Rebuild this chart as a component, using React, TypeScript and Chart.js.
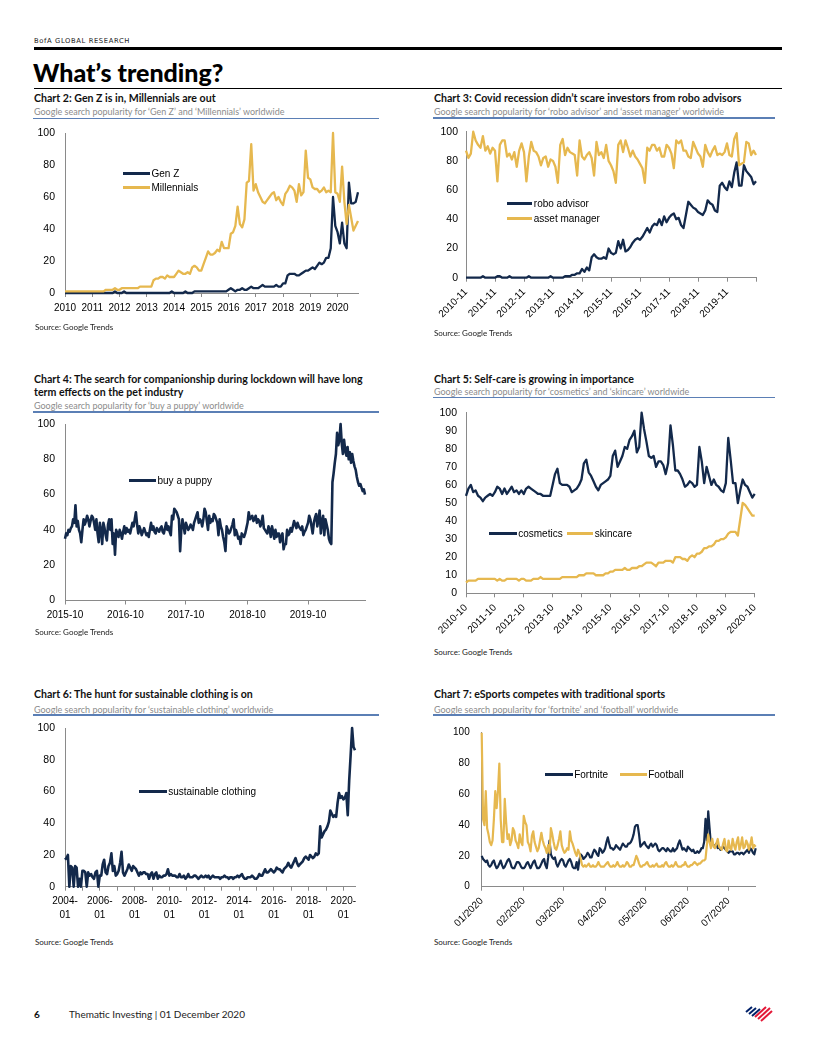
import React, { useEffect, useRef } from "react";
import { Chart, registerables } from "chart.js";

Chart.register(...registerables);

const NAVY = "#13294b";
const GOLD = "#e6b84f";
const AXIS = "#8a8a8a";
const RULE = "#5b7fb5";
const UI_FONT = "'Liberation Sans', Arial, Helvetica, sans-serif";
const DOC_FONT = "Lato, 'Open Sans', 'Noto Sans', sans-serif";

// ---------- Chart 2: Gen Z vs Millennials (monthly, Jan 2010 - Oct 2020)
const c2Ticks = [0, 12, 24, 36, 48, 60, 72, 84, 96, 108, 120];
const c2TickLabels = ["2010", "2011", "2012", "2013", "2014", "2015", "2016", "2017", "2018", "2019", "2020"];
const genZ = [
  0, 0, 0, 0, 0, 0, 0, 0, 0, 0, 0, 0,
  0, 0, 0, 0, 0, 0, 0, 0, 0, 0, 1, 0,
  0, 0, 1, 0, 0, 0, 0, 0, 0, 0, 0, 0,
  0, 0, 0, 0, 0, 0, 0, 0, 0, 0, 0, 1,
  0, 0, 0, 0, 0, 1, 0, 0, 0, 1, 1, 1,
  1, 1, 1, 1, 1, 1, 1, 1, 1, 1, 1, 1,
  2, 3, 2, 1, 2, 2, 3, 2, 2, 3, 4, 3,
  3, 3, 4, 5, 4, 4, 4, 4, 4, 5, 4, 4,
  6, 6, 11, 12, 12, 12, 11, 11, 12, 13, 14, 14,
  15, 16, 15, 17, 19, 18, 19, 22, 22, 28, 60, 42,
  38, 31, 44, 31, 28, 69, 56, 56, 57, 63,
];
const millennials = [
  1, 1, 1, 1, 1, 1, 1, 1, 1, 1, 1, 1,
  1, 1, 1, 1, 1, 1, 2, 2, 2, 2, 3, 2,
  2, 3, 3, 3, 3, 3, 3, 3, 3, 4, 4, 4,
  4, 4, 4, 8, 9, 9, 10, 10, 9, 11, 10, 10,
  10, 12, 14, 13, 12, 12, 13, 12, 16, 17, 16, 14,
  14, 18, 22, 26, 24, 24, 25, 27, 26, 32, 28, 28,
  28, 37, 38, 42, 54, 43, 41, 46, 69, 70, 93, 64,
  68, 63, 60, 57, 56, 58, 60, 62, 63, 58, 60, 57,
  55, 62, 64, 67, 66, 64, 57, 68, 61, 63, 89, 72,
  71, 66, 65, 65, 63, 64, 66, 63, 64, 63, 100, 63,
  62, 57, 79, 57, 43, 55, 47, 39, 42, 45,
];

// ---------- Chart 3: robo advisor vs asset manager (monthly, Nov 2010 - Nov 2020)
const c3Ticks = [0, 12, 24, 36, 48, 60, 72, 84, 96, 108, 120];
const c3TickLabels = ["2010-11", "2011-11", "2012-11", "2013-11", "2014-11", "2015-11", "2016-11", "2017-11", "2018-11", "2019-11", ""];
const roboAdvisor = [
  0, 0, 0, 0, 0, 0, 0, 1, 0, 0, 0, 0, 0, 1, 1, 0, 0, 0, 1, 0,
  0, 0, 0, 0, 0, 0, 1, 0, 0, 0, 0, 0, 0, 0, 0, 1, 0, 0, 0, 0,
  0, 1, 1, 1, 2, 2, 3, 3, 6, 4,
  7, 5, 14, 16, 14, 13, 13, 14, 13, 20,
  17, 16, 17, 25, 20, 26, 18, 19, 21, 24,
  26, 27, 26, 28, 31, 34, 31, 35, 37, 36,
  40, 36, 42, 38, 41, 43, 44, 40, 41, 36,
  34, 43, 52, 50, 48, 47, 45, 44, 43, 46,
  53, 51, 50, 46, 45, 63, 65, 62, 60, 66,
  62, 72, 79, 63, 63, 77, 73, 71, 69, 64, 66,
];
const assetManager = [
  87, 82, 85, 100, 94, 91, 89, 97, 87, 90,
  85, 89, 87, 66, 91, 94, 94, 83, 85, 81,
  86, 76, 87, 92, 86, 66, 83, 93, 87, 86,
  83, 77, 82, 83, 76, 81, 80, 76, 65, 91,
  95, 84, 89, 86, 85, 84, 70, 94, 83, 81,
  84, 86, 82, 70, 93, 84, 86, 82, 91, 80,
  77, 73, 65, 91, 94, 86, 94, 89, 83, 87,
  83, 81, 78, 75, 65, 89, 87, 91, 91, 87,
  89, 83, 83, 91, 89, 85, 75, 94, 92, 94,
  87, 87, 83, 82, 93, 89, 85, 83, 76, 91,
  86, 83, 87, 90, 84, 85, 84, 86, 92, 84,
  83, 95, 99, 77, 78, 79, 93, 92, 84, 87,
  84,
];

// ---------- Chart 4: buy a puppy (weekly, Oct 2015 - Sep 2020)
const c4Ticks = [0, 52, 104, 157, 209];
const c4TickLabels = ["2015-10", "2016-10", "2017-10", "2018-10", "2019-10"];
const buyAPuppy = [
  35, 38, 37, 40, 39, 41, 42, 46, 44, 54,
  42, 45, 40, 38, 33, 40, 46, 43, 45, 48,
  46, 42, 45, 48, 47, 44, 40, 46, 38, 33,
  44, 40, 32, 44, 41, 37, 34, 43, 46, 40,
  46, 32, 38, 26, 40, 38, 36, 40, 38, 35,
  39, 42, 38, 41, 39, 40, 38, 41, 44, 42,
  46, 50, 43, 38, 42, 40, 37, 39, 41, 39,
  37, 38, 36, 40, 44, 40, 42, 39, 38, 41,
  40, 39, 41, 42, 39, 38, 41, 44, 40, 42,
  39, 37, 48, 46, 52, 51, 50, 48, 46, 28,
  40, 46, 42, 38, 44, 42, 40, 41, 43, 42,
  40, 44, 46, 48, 50, 44, 46, 45, 42, 46,
  52, 50, 45, 40, 48, 44, 46, 45, 49, 48,
  46, 44, 37, 46, 42, 40, 36, 33, 28, 42,
  40, 38, 39, 41, 43, 46, 37, 40, 38, 35,
  36, 32, 38, 37, 36, 38, 41, 44, 50, 46,
  47, 48, 45, 46, 48, 44, 46, 45, 42, 44,
  48, 41, 40, 39, 38, 42, 40, 36, 42, 39,
  35, 40, 36, 38, 38, 33, 36, 38, 29, 32,
  32, 40, 37, 38, 41, 39, 42, 45, 43, 41,
  44, 42, 41, 40, 42, 37, 39, 40, 42, 44,
  48, 46, 42, 38, 44, 47, 49, 42, 46, 51,
  38, 45, 48, 37, 46, 43, 40, 35, 33, 32,
  67, 72, 78, 83, 95, 88, 91, 100, 89, 83,
  91, 85, 82, 87, 80, 84, 78, 83, 79, 76,
  74, 70, 67, 65, 66, 64, 62, 63, 60,
];

// ---------- Chart 5: cosmetics vs skincare (monthly, Oct 2010 - Oct 2020)
const c5Ticks = [0, 12, 24, 36, 48, 60, 72, 84, 96, 108, 120];
const c5TickLabels = ["2010-10", "2011-10", "2012-10", "2013-10", "2014-10", "2015-10", "2016-10", "2017-10", "2018-10", "2019-10", "2020-10"];
const cosmetics = [
  54, 58, 60, 56, 57, 54, 53, 51, 53, 54,
  55, 54, 56, 59, 58, 55, 58, 55, 57, 59,
  56, 57, 55, 57, 55, 58, 59, 58, 57, 56,
  55, 55, 54, 54, 54, 54, 60, 66, 69, 61,
  60, 60, 60, 59, 56, 57, 58, 60, 63, 72,
  74, 67, 65, 62, 59, 57, 60, 61, 62, 63,
  65, 76, 79, 70, 73, 76, 81, 80, 85, 87,
  90, 78, 81, 100, 91, 84, 76, 75, 76, 70,
  73, 73, 71, 66, 72, 93, 82, 68, 68, 66,
  63, 59, 60, 62, 61, 59, 60, 81, 73, 61,
  70, 65, 60, 63, 60, 59, 57, 56, 61, 86,
  74, 61, 61, 50, 57, 63, 60, 59, 56, 53, 55,
];
const skincare = [
  6, 7, 7, 7, 7, 8, 8, 8, 8, 8,
  8, 8, 8, 7, 8, 7, 7, 8, 8, 8,
  8, 8, 7, 8, 8, 7, 7, 7, 8, 8,
  8, 9, 8, 8, 8, 8, 8, 8, 8, 8,
  9, 9, 9, 9, 9, 9, 9, 10, 10, 10,
  11, 11, 11, 11, 10, 10, 10, 10, 11, 11,
  12, 12, 13, 13, 13, 13, 14, 13, 13, 14,
  14, 14, 15, 15, 16, 17, 17, 17, 16, 15,
  17, 17, 17, 18, 18, 18, 17, 20, 20, 20,
  19, 19, 18, 20, 21, 20, 22, 22, 23, 25,
  25, 26, 26, 27, 29, 29, 30, 30, 31, 33,
  34, 34, 34, 32, 41, 50, 49, 47, 45, 43, 43,
];

// ---------- Chart 6: sustainable clothing (monthly, Jan 2004 - Sep 2020)
const c6Ticks = [0, 12, 24, 36, 48, 60, 72, 84, 96, 108, 120, 132, 144, 156, 168, 180, 192];
const c6TickLabels: (string | string[])[] = [
  ["2004-", "01"], "", ["2006-", "01"], "", ["2008-", "01"], "", ["2010-", "01"], "", ["2012-", "01"], "",
  ["2014-", "01"], "", ["2016-", "01"], "", ["2018-", "01"], "", ["2020-", "01"],
];
const sustainableClothing = [
  17, 18, 20, 0, 13, 12, 0, 13, 12, 0,
  5, 0, 10, 10, 9, 0, 9, 7, 8, 6,
  5, 9, 10, 0, 7, 7, 14, 17, 9, 8,
  13, 15, 21, 10, 13, 7, 8, 10, 15, 22,
  9, 7, 9, 11, 14, 12, 10, 13, 12, 11,
  9, 7, 9, 8, 9, 9, 8, 8, 5, 8,
  9, 5, 8, 9, 5, 7, 6, 6, 7, 7,
  8, 11, 7, 8, 7, 7, 7, 6, 6, 8,
  6, 6, 7, 5, 6, 8, 6, 6, 6, 7,
  7, 6, 5, 6, 7, 6, 6, 7, 6, 7,
  5, 6, 7, 6, 6, 6, 6, 5, 6, 6,
  7, 6, 6, 5, 6, 6, 5, 6, 6, 7,
  6, 7, 8, 6, 5, 5, 6, 6, 6, 7,
  6, 5, 5, 6, 8, 7, 7, 9, 11, 9,
  9, 10, 11, 10, 9, 10, 12, 11, 11, 10,
  9, 11, 12, 13, 15, 13, 12, 14, 16, 18,
  15, 13, 14, 15, 16, 18, 19, 18, 17, 20,
  19, 18, 19, 21, 20, 21, 38, 31, 33, 35,
  36, 38, 41, 48, 46, 44, 45, 44, 53, 59,
  56, 57, 55, 56, 59, 45, 67, 83, 100, 88,
  86,
];

// ---------- Chart 7: Fortnite vs Football (daily, 1 Jan - 21 Jul 2020)
const c7Ticks = [0, 31, 60, 91, 121, 152, 182];
const c7TickLabels = ["01/2020", "02/2020", "03/2020", "04/2020", "05/2020", "06/2020", "07/2020"];
const fortnite = [
  20, 18, 17, 16, 17, 14, 13, 14, 16, 17,
  14, 12, 13, 15, 17, 14, 12, 13, 15, 17,
  18, 16, 13, 12, 12, 14, 16, 16, 15, 13,
  12, 12, 13, 15, 16, 14, 12, 14, 16, 17,
  14, 12, 12, 13, 15, 17, 18, 14, 12, 19,
  30, 21, 19, 18, 19, 15, 13, 15, 17, 18,
  17, 14, 13, 15, 17, 18, 16, 13, 12, 12,
  16, 11, 17, 21, 20, 18, 19, 20, 22, 21,
  19, 19, 22, 24, 23, 21, 20, 25, 24, 22,
  23, 25, 29, 32, 28, 25, 25, 24, 25, 27,
  26, 25, 24, 26, 28, 27, 26, 26, 28, 28,
  29, 31, 34, 39, 40, 40, 34, 26, 27, 28,
  29, 27, 26, 25, 27, 28, 26, 27, 28, 27,
  24, 23, 24, 25, 25, 24, 23, 25, 24, 23,
  23, 25, 23, 24, 25, 28, 30, 27, 24, 25,
  24, 23, 26, 25, 24, 23, 24, 22, 22, 23,
  22, 23, 25, 25, 29, 44, 30, 49, 38, 27,
  28, 27, 26, 28, 25, 26, 24, 25, 26, 25,
  24, 23, 22, 23, 23, 23, 21, 21, 22, 22,
  21, 22, 22, 21, 22, 23, 24, 22, 25, 24,
  22, 21, 25,
];
const football = [
  100, 44, 40, 62, 38, 34, 29, 27, 30, 44,
  62, 51, 62, 80, 44, 29, 29, 57, 42, 31,
  34, 27, 30, 38, 36, 30, 28, 25, 34, 29,
  27, 46, 42, 40, 29, 27, 23, 33, 36, 29,
  26, 23, 25, 30, 35, 30, 27, 25, 22, 27,
  22, 38, 34, 29, 25, 24, 27, 31, 36, 27,
  24, 22, 23, 25, 24, 36, 30, 28, 25, 22,
  20, 24, 22, 18, 14, 13, 14, 13, 14, 15,
  13, 13, 14, 13, 13, 14, 16, 14, 13, 13,
  13, 14, 15, 16, 14, 13, 13, 14, 13, 14,
  16, 14, 13, 13, 14, 13, 14, 16, 15, 13,
  13, 14, 14, 17, 20, 18, 15, 13, 13, 14,
  14, 15, 16, 14, 13, 13, 14, 13, 14, 15,
  13, 13, 13, 14, 13, 15, 16, 14, 13, 13,
  14, 13, 14, 16, 14, 13, 13, 13, 14, 14,
  16, 14, 13, 13, 14, 14, 15, 16, 15, 14,
  15, 15, 16, 17, 17, 18, 27, 34, 29, 25,
  31, 26, 25, 28, 31, 26, 25, 24, 28, 31,
  24, 23, 30, 25, 24, 31, 27, 24, 29, 32,
  24, 27, 32, 25, 26, 30, 28, 24, 27, 32,
  25, 27, 26,
];

type Series = { values: number[]; color: string; width: number };
type Spec = {
  left: number; top: number; width: number; height: number;
  yAxisW: number; xAxisH: number; padTop: number; padRight: number;
  xMax: number; xTicks: number[]; xLabels: (string | string[])[];
  rotation: number; yStep: number; xFont: number; yFont: number; yPad: number;
  series: Series[];
};

function LineChart({ spec }: { spec: Spec }) {
  const ref = useRef<HTMLCanvasElement | null>(null);
  useEffect(() => {
    const canvas = ref.current;
    if (!canvas) return;
    const chart = new Chart(canvas, {
      type: "line",
      data: {
        datasets: spec.series.map((s) => ({
          data: s.values.map((v, i) => ({ x: i, y: v })),
          borderColor: s.color,
          backgroundColor: s.color,
          borderWidth: s.width,
          pointRadius: 0,
          tension: 0,
          fill: false,
          clip: false as any,
          borderJoinStyle: "round" as const,
        })),
      },
      options: {
        animation: false,
        responsive: false,
        events: [],
        layout: { padding: { top: spec.padTop, right: spec.padRight, left: 0, bottom: 0 } },
        plugins: { legend: { display: false }, tooltip: { enabled: false }, title: { display: false } },
        scales: {
          x: {
            type: "linear",
            min: 0,
            max: spec.xMax,
            afterBuildTicks: (s: any) => {
              s.ticks = spec.xTicks.map((v) => ({ value: v }));
            },
            afterFit: (s: any) => {
              s.height = spec.xAxisH;
              s.paddingLeft = 0;
              s.paddingRight = 0;
            },
            grid: { drawOnChartArea: false, drawTicks: true, tickLength: 4, color: AXIS, lineWidth: 1 },
            border: { display: true, color: AXIS, width: 1 },
            ticks: {
              autoSkip: false,
              minRotation: spec.rotation,
              maxRotation: spec.rotation,
              padding: 4,
              color: "#000",
              font: { family: UI_FONT, size: spec.xFont, lineHeight: 1.35 },
              callback: (value: any) => {
                const i = spec.xTicks.indexOf(Number(value));
                return i >= 0 ? spec.xLabels[i] : "";
              },
            },
          },
          y: {
            type: "linear",
            min: 0,
            max: 100,
            afterFit: (s: any) => {
              s.width = spec.yAxisW;
              s.paddingTop = 0;
              s.paddingBottom = 0;
            },
            grid: { drawOnChartArea: false, drawTicks: false, color: AXIS },
            border: { display: true, color: AXIS, width: 1 },
            ticks: {
              stepSize: spec.yStep,
              padding: spec.yPad,
              color: "#000",
              font: { family: UI_FONT, size: spec.yFont },
            },
          },
        },
      } as any,
    });
    return () => chart.destroy();
  }, [spec]);
  return (
    <canvas
      ref={ref}
      width={spec.width}
      height={spec.height}
      style={{ position: "absolute", left: spec.left, top: spec.top, width: spec.width, height: spec.height }}
    />
  );
}

function Txt(props: {
  x: number; cy: number; size: number; children: React.ReactNode; font?: string;
  weight?: number; color?: string; ls?: number; lh?: number;
}) {
  const lh = props.lh ?? Math.round(props.size * 1.25);
  return (
    <div
      style={{
        position: "absolute",
        left: props.x,
        top: props.cy - lh / 2,
        lineHeight: lh + "px",
        fontSize: props.size,
        fontFamily: props.font ?? DOC_FONT,
        fontWeight: props.weight ?? 400,
        color: props.color ?? "#000",
        letterSpacing: props.ls ?? 0,
        whiteSpace: "nowrap",
      }}
    >
      {props.children}
    </div>
  );
}

function Rule({ x, y, w, h, color }: { x: number; y: number; w: number; h: number; color: string }) {
  return <div style={{ position: "absolute", left: x, top: y, width: w, height: h, background: color }} />;
}

function LegendItem({ x1, x2, y, color, label }: { x1: number; x2: number; y: number; color: string; label: string }) {
  return (
    <>
      <div style={{ position: "absolute", left: x1, top: y - 1.5, width: x2 - x1, height: 3, background: color }} />
      <Txt x={x2 + 1.5} cy={y} size={10} font={UI_FONT}>{label}</Txt>
    </>
  );
}

const spec2: Spec = {
  left: 30, top: 123, width: 345, height: 200, yAxisW: 35, xAxisH: 30, padTop: 10, padRight: 17,
  xMax: 129, xTicks: c2Ticks, xLabels: c2TickLabels, rotation: 0, yStep: 20, xFont: 10, yFont: 10.5, yPad: 10,
  series: [
    { values: millennials, color: GOLD, width: 2.3 },
    { values: genZ, color: NAVY, width: 2.3 },
  ],
};
const spec3: Spec = {
  left: 428, top: 122, width: 345, height: 201, yAxisW: 38, xAxisH: 45.3, padTop: 9.7, padRight: 17,
  xMax: 120, xTicks: c3Ticks, xLabels: c3TickLabels, rotation: 45, yStep: 20, xFont: 10, yFont: 10.5, yPad: 8,
  series: [
    { values: assetManager, color: GOLD, width: 2.3 },
    { values: roboAdvisor, color: NAVY, width: 2.3 },
  ],
};
const spec4: Spec = {
  left: 30, top: 414, width: 345, height: 217, yAxisW: 35, xAxisH: 30.5, padTop: 10, padRight: 10,
  xMax: 258, xTicks: c4Ticks, xLabels: c4TickLabels, rotation: 0, yStep: 20, xFont: 10, yFont: 10.5, yPad: 10,
  series: [{ values: buyAPuppy, color: NAVY, width: 2.6 }],
};
const spec5: Spec = {
  left: 428, top: 403, width: 345, height: 236, yAxisW: 38, xAxisH: 45.7, padTop: 9.7, padRight: 18.3,
  xMax: 120, xTicks: c5Ticks, xLabels: c5TickLabels, rotation: 45, yStep: 10, xFont: 10, yFont: 10.5, yPad: 9,
  series: [
    { values: skincare, color: GOLD, width: 2.3 },
    { values: cosmetics, color: NAVY, width: 2.3 },
  ],
};
const spec6: Spec = {
  left: 30, top: 718, width: 345, height: 207, yAxisW: 35, xAxisH: 38.3, padTop: 10, padRight: 20,
  xMax: 200, xTicks: c6Ticks, xLabels: c6TickLabels, rotation: 0, yStep: 20, xFont: 10, yFont: 10.5, yPad: 10,
  series: [{ values: sustainableClothing, color: NAVY, width: 2.6 }],
};
const spec7: Spec = {
  left: 440, top: 722, width: 333, height: 210, yAxisW: 41.7, xAxisH: 45.3, padTop: 10.7, padRight: 17.3,
  xMax: 202, xTicks: c7Ticks, xLabels: c7TickLabels, rotation: 45, yStep: 20, xFont: 10, yFont: 10, yPad: 12,
  series: [
    { values: football, color: GOLD, width: 2.2 },
    { values: fortnite, color: NAVY, width: 2.2 },
  ],
};

function Heading({ x, ruleW, title, titleY, sub, subY, ruleY }: {
  x: number; ruleW: number; title: string[]; titleY: number; sub: string; subY: number; ruleY: number;
}) {
  return (
    <>
      {title.map((t, i) => (
        <Txt key={i} x={x} cy={titleY + i * 13.3} size={10.6} weight={700} color="#111">{t}</Txt>
      ))}
      <Txt x={x} cy={subY} size={9} color="#8c8c8c">{sub}</Txt>
      <Rule x={x - 1} y={ruleY} w={ruleW} h={1.6} color={RULE} />
    </>
  );
}

export default function App() {
  return (
    <div style={{ position: "absolute", left: 0, top: 0, width: 816, height: 1056, background: "#fff", overflow: "hidden" }}>
      <Txt x={34} cy={41} size={6.8} font="'DejaVu Sans', sans-serif" ls={0.6} color="#222">BofA GLOBAL RESEARCH</Txt>
      <Rule x={34} y={47} w={748} h={2.5} color="#000" />
      <div
        style={{
          position: "absolute", left: 33, top: 57, fontSize: 25, lineHeight: "30px", fontFamily: DOC_FONT,
          fontWeight: 900, color: "#000", whiteSpace: "nowrap",
        }}
      >
        What’s trending?
      </div>
      <Rule x={34} y={88} w={748} h={1} color="#000" />

      <Heading x={34} ruleW={346} title={["Chart 2: Gen Z is in, Millennials are out"]} titleY={98.3}
        sub="Google search popularity for ‘Gen Z’ and ‘Millennials’ worldwide" subY={111} ruleY={117.5} />
      <Heading x={434} ruleW={342} title={["Chart 3: Covid recession didn’t scare investors from robo advisors"]} titleY={98.3}
        sub="Google search popularity for ‘robo advisor’ and ‘asset manager’ worldwide" subY={111} ruleY={117.3} />
      <Heading x={34} ruleW={346}
        title={["Chart 4: The search for companionship during lockdown will have long", "term effects on the pet industry"]}
        titleY={379} sub="Google search popularity for ‘buy a puppy’ worldwide" subY={405.5} ruleY={411} />
      <Heading x={434} ruleW={342} title={["Chart 5: Self-care is growing in importance"]} titleY={379}
        sub="Google search popularity for ‘cosmetics’ and ‘skincare’ worldwide" subY={391.7} ruleY={396.8} />
      <Heading x={34} ruleW={346} title={["Chart 6: The hunt for sustainable clothing is on"]} titleY={694.7}
        sub="Google search popularity for ‘sustainable clothing’ worldwide" subY={709} ruleY={714.3} />
      <Heading x={434} ruleW={342} title={["Chart 7: eSports competes with traditional sports"]} titleY={694.7}
        sub="Google search popularity for ‘fortnite’ and ‘football’ worldwide" subY={709} ruleY={714.3} />

      <LineChart spec={spec2} />
      <LineChart spec={spec3} />
      <LineChart spec={spec4} />
      <LineChart spec={spec5} />
      <LineChart spec={spec6} />
      <LineChart spec={spec7} />

      <LegendItem x1={122.7} x2={150} y={173.3} color={NAVY} label="Gen Z" />
      <LegendItem x1={122.7} x2={150} y={187.7} color={GOLD} label="Millennials" />
      <LegendItem x1={506.7} x2={532.3} y={203.3} color={NAVY} label="robo advisor" />
      <LegendItem x1={506.7} x2={532.3} y={218.3} color={GOLD} label="asset manager" />
      <LegendItem x1={129.3} x2={156} y={480} color={NAVY} label="buy a puppy" />
      <LegendItem x1={489.3} x2={516.7} y={533.3} color={NAVY} label="cosmetics" />
      <LegendItem x1={566.7} x2={593.3} y={533.3} color={GOLD} label="skincare" />
      <LegendItem x1={139.3} x2={166.7} y={791} color={NAVY} label="sustainable clothing" />
      <LegendItem x1={545} x2={572.7} y={774.3} color={NAVY} label="Fortnite" />
      <LegendItem x1={620} x2={646.7} y={774.3} color={GOLD} label="Football" />

      <Txt x={35} cy={326.7} size={8} color="#222">Source: Google Trends</Txt>
      <Txt x={434} cy={333.3} size={8} color="#222">Source: Google Trends</Txt>
      <Txt x={35} cy={632.3} size={8} color="#222">Source: Google Trends</Txt>
      <Txt x={434} cy={651.7} size={8} color="#222">Source: Google Trends</Txt>
      <Txt x={35} cy={941.7} size={8} color="#222">Source: Google Trends</Txt>
      <Txt x={434} cy={941.7} size={8} color="#222">Source: Google Trends</Txt>

      <Txt x={34} cy={1014} size={10} weight={700} color="#111">6</Txt>
      <Txt x={69} cy={1014} size={10} color="#222">Thematic Investing | 01 December 2020</Txt>
      <svg style={{ position: "absolute", left: 745, top: 1004 }} width={28} height={18} viewBox="0 0 28 18">
        <g strokeWidth={2} strokeLinecap="butt">
          <line x1={1} y1={8} x2={7} y2={3} stroke="#012169" />
          <line x1={4} y1={10} x2={11} y2={4} stroke="#012169" />
          <line x1={7} y1={12} x2={15} y2={5} stroke="#012169" />
          <line x1={10} y1={13} x2={21} y2={3} stroke="#e31837" />
          <line x1={13} y1={15} x2={25} y2={4} stroke="#e31837" />
          <line x1={16} y1={17} x2={27} y2={7} stroke="#e31837" />
        </g>
      </svg>
    </div>
  );
}
